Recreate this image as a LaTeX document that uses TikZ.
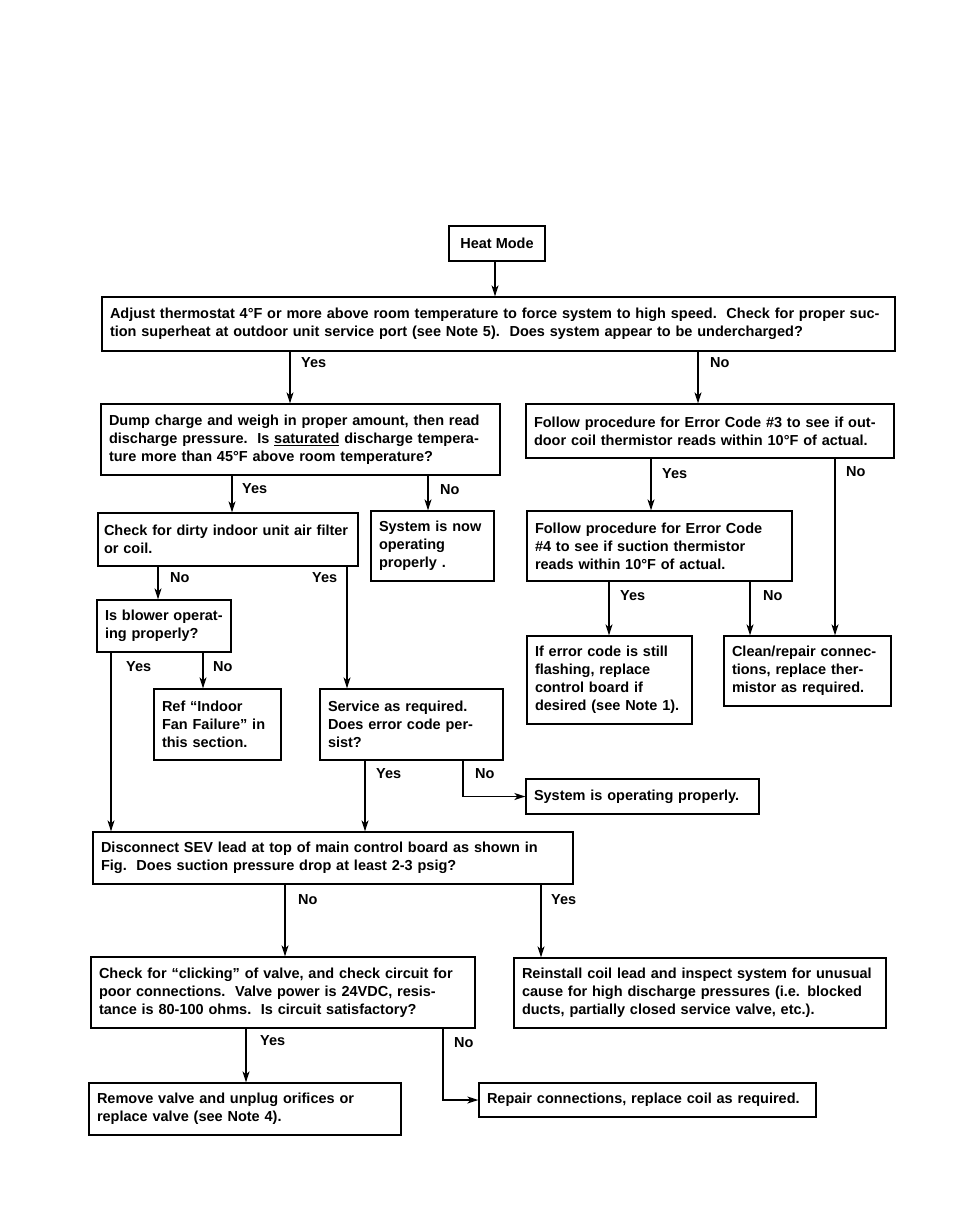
\documentclass[tikz,border=0pt]{standalone}
\usepackage{fontspec}
\newfontfamily\diagfont{Liberation Sans}
\usetikzlibrary{arrows.meta}
\begin{document}
\begin{tikzpicture}[x=1pt,y=-1pt,
  txt/.style={font=\diagfont\bfseries\fontsize{14.5}{18}\selectfont},
  box/.style={txt,draw,line width=1.3pt,align=left,inner xsep=8pt,inner ysep=2pt,anchor=center},
  lbl/.style={txt,anchor=west,inner sep=0pt},
  arr/.style={line width=1.3pt,-{Stealth[length=11pt,width=7pt,inset=3pt]}}]
\useasboundingbox[fill=white] (0,0) rectangle (954,1225);

% boxes
\node[box,align=center,minimum width=96pt,minimum height=35pt] (heat) at (497,243.5) {Heat Mode};
\node[box,text width=777pt,minimum height=54pt] (adjust) at (498.5,324) {Adjust thermostat 4°F or more above room temperature to force system to high speed.\ \ Check for proper suc-\\tion superheat at outdoor unit service port (see Note 5).\ \ Does system appear to be undercharged?};
\node[box,text width=383pt,minimum height=71pt] (dump) at (300.5,439.5) {Dump charge and weigh in proper amount, then read\\discharge pressure.\ \ Is \underline{saturated} discharge tempera-\\ture more than 45°F above room temperature?};
\node[box,text width=352pt,minimum height=54pt] (err3) at (710,431) {Follow procedure for Error Code \#3 to see if out-\\door coil thermistor reads within 10°F of actual.};
\node[box,text width=248pt,minimum height=53pt,inner xsep=6pt] (dirty) at (228,539.5) {\mbox{Check for dirty indoor unit air filter}\\or coil.};
\node[box,text width=107pt,minimum height=70pt] (sysnow) at (432.5,546) {System is now\\operating\\properly .};
\node[box,text width=249pt,minimum height=70pt] (err4) at (659.5,546) {Follow procedure for Error Code\\\#4 to see if suction thermistor\\reads within 10°F of actual.};
\node[box,text width=118pt,minimum height=52pt] (blower) at (164,626) {Is blower operat-\\ing properly?};
\node[box,text width=111pt,minimum height=71pt] (ref) at (217.5,724.5) {Ref “Indoor\\Fan Failure” in\\this section.};
\node[box,text width=167pt,minimum height=71pt] (service) at (411.5,724.5) {Service as required.\\Does error code per-\\sist?};
\node[box,text width=149pt,minimum height=88pt] (iferr) at (609.5,680) {If error code is still\\flashing, replace\\control board if\\desired (see Note 1).};
\node[box,text width=151pt,minimum height=70pt] (clean) at (807.5,671) {Clean/repair connec-\\tions, replace ther-\\mistor as required.};
\node[box,text width=217pt,minimum height=35pt] (sysop) at (642.5,796.5) {System is operating properly.};
\node[box,text width=464pt,minimum height=52pt] (sev) at (333,858) {Disconnect SEV lead at top of main control board as shown in\\Fig.\ \ Does suction pressure drop at least 2-3 psig?};
\node[box,text width=368pt,minimum height=71pt] (click) at (283,992.5) {Check for “clicking” of valve, and check circuit for\\poor connections.\ \ Valve power is 24VDC, resis-\\tance is 80-100 ohms.\ \ Is circuit satisfactory?};
\node[box,text width=356pt,minimum height=70pt] (reinst) at (700,993) {Reinstall coil lead and inspect system for unusual\\cause for high discharge pressures (i.e. blocked\\ducts, partially closed service valve, etc.).};
\node[box,text width=296pt,minimum height=52pt] (remove) at (245,1109) {Remove valve and unplug orifices or\\replace valve (see Note 4).};
\node[box,text width=321pt,minimum height=34pt] (repair) at (647.5,1100) {Repair connections, replace coil as required.};

% column helpers
\coordinate (c495) at (495,0);
\coordinate (c290) at (290,0);
\coordinate (c698) at (698,0);
\coordinate (c232) at (232,0);
\coordinate (c428) at (428,0);
\coordinate (c651) at (651,0);
\coordinate (c835) at (835,0);
\coordinate (c609) at (609,0);
\coordinate (c750) at (750,0);
\coordinate (c158) at (158,0);
\coordinate (c347) at (347,0);
\coordinate (c111) at (111,0);
\coordinate (c203) at (203,0);
\coordinate (c365) at (365,0);
\coordinate (c463) at (463,0);
\coordinate (c285) at (285,0);
\coordinate (c541) at (541,0);
\coordinate (c246) at (246,0);
\coordinate (c443) at (443,0);

% connectors
\draw[arr] (heat.south -| c495) -- (adjust.north -| c495);
\draw[arr] (adjust.south -| c290) -- (dump.north -| c290);
\draw[arr] (adjust.south -| c698) -- (err3.north -| c698);
\draw[arr] (dump.south -| c232) -- (dirty.north -| c232);
\draw[arr] (dump.south -| c428) -- (sysnow.north -| c428);
\draw[arr] (err3.south -| c651) -- (err4.north -| c651);
\draw[arr] (err3.south -| c835) -- (clean.north -| c835);
\draw[arr] (err4.south -| c609) -- (iferr.north -| c609);
\draw[arr] (err4.south -| c750) -- (clean.north -| c750);
\draw[arr] (dirty.south -| c158) -- (blower.north -| c158);
\draw[arr] (dirty.south -| c347) -- (service.north -| c347);
\draw[arr] (blower.south -| c111) -- (sev.north -| c111);
\draw[arr] (blower.south -| c203) -- (ref.north -| c203);
\draw[arr] (service.south -| c365) -- (sev.north -| c365);
\draw[arr] (service.south -| c463) |- (sysop.west);
\draw[arr] (sev.south -| c285) -- (click.north -| c285);
\draw[arr] (sev.south -| c541) -- (reinst.north -| c541);
\draw[arr] (click.south -| c246) -- (remove.north -| c246);
\draw[arr] (click.south -| c443) |- (repair.west);

% labels
\node[lbl] (l1) at (301,363) {Yes};
\node[lbl] (l2) at (710,363) {No};
\node[lbl] (l3) at (242,489) {Yes};
\node[lbl] (l4) at (440,490) {No};
\node[lbl] (l5) at (662,474) {Yes};
\node[lbl] (l6) at (846,472) {No};
\node[lbl] (l7) at (620,596) {Yes};
\node[lbl] (l8) at (763,596) {No};
\node[lbl] (l9) at (170,578) {No};
\node[lbl] (l10) at (312,578) {Yes};
\node[lbl] (l11) at (126,667) {Yes};
\node[lbl] (l12) at (213,667) {No};
\node[lbl] (l13) at (376,774) {Yes};
\node[lbl] (l14) at (475,774) {No};
\node[lbl] (l15) at (298,900) {No};
\node[lbl] (l16) at (551,900) {Yes};
\node[lbl] (l17) at (260,1041) {Yes};
\node[lbl] (l18) at (454,1043) {No};
\end{tikzpicture}
\end{document}
